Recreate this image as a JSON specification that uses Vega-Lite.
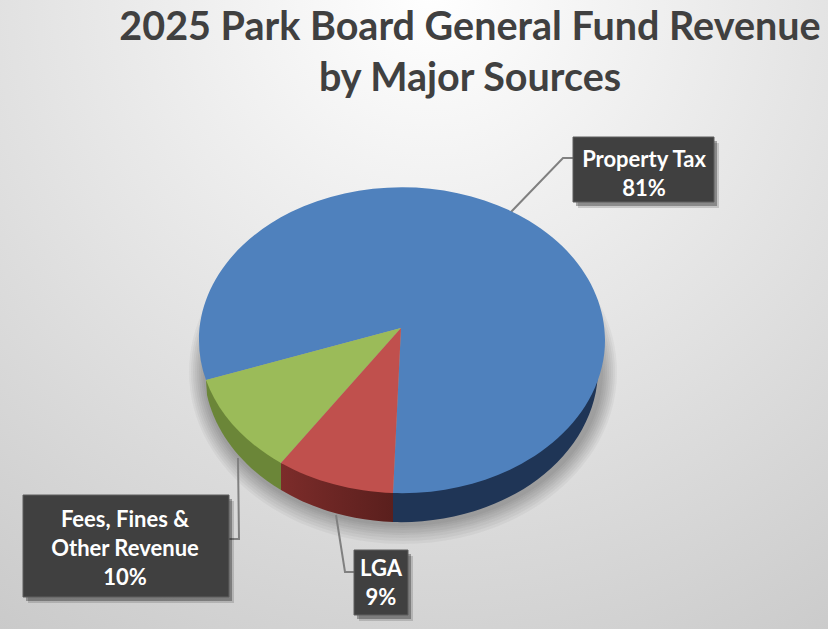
{
"$schema":"https://vega.github.io/schema/vega-lite/v6.json",
"width":828,"height":629,"padding":0,"autosize":{"type":"none"},
"config":{"view":{"stroke":null}},
"title":{"text":["2025 Park Board General Fund Revenue","by Major Sources"],"anchor":"middle","frame":"group","font":"Lato","fontSize":39.5,"fontWeight":"bold","color":"#404040","lineHeight":51,"dx":56,"offset":-99},
"data":{"values":[
{"source":"Property Tax","share":81,"label":"Property Tax\n81%"},
{"source":"Fees, Fines & Other Revenue","share":10,"label":"Fees, Fines &\nOther Revenue\n10%"},
{"source":"LGA","share":9,"label":"LGA\n9%"}
]},
"layer":[
{"data":{"values":[{"panel":"background"}]},"mark":{"type":"rect","color":{"gradient":"radial","x1":0.52,"y1":0.11,"r1":0,"x2":0.52,"y2":0.11,"r2":1,"stops":[{"offset":0,"color":"#ffffff"},{"offset":1,"color":"#c6c6c6"}]}},
"encoding":{"x":{"datum":0,"type":"quantitative","scale":{"domain":[0,828],"range":[0,828],"nice":false,"zero":false},"axis":null},"x2":{"datum":828},"y":{"datum":0,"type":"quantitative","scale":{"domain":[0,629],"range":[0,629],"nice":false,"zero":false},"axis":null},"y2":{"datum":629}}},

{"data":{"values":[{"ring":"a"},{"ring":"b"},{"ring":"c"},{"ring":"d"},{"ring":"e"},{"ring":"f"},{"ring":"g"},{"ring":"h"}]},"mark":{"type":"point","filled":true,"size":4,"opacity":0.04,"color":"#000000"},
"encoding":{"x":{"datum":403,"type":"quantitative"},"y":{"datum":372,"type":"quantitative"},
"shape":{"field":"ring","type":"nominal","legend":null,"scale":{"domain":["a","b","c","d","e","f","g","h"],"range":[
"M-200,0A200,154,0,1,0,200,0A200,154,0,1,0,-200,0Z",
"M-202,0A202,156,0,1,0,202,0A202,156,0,1,0,-202,0Z",
"M-204,0A204,158,0,1,0,204,0A204,158,0,1,0,-204,0Z",
"M-206,0A206,161,0,1,0,206,0A206,161,0,1,0,-206,0Z",
"M-208,0A208,163,0,1,0,208,0A208,163,0,1,0,-208,0Z",
"M-210,0A210,166,0,1,0,210,0A210,166,0,1,0,-210,0Z",
"M-212,0A212,169,0,1,0,212,0A212,169,0,1,0,-212,0Z",
"M-214,0A214,172,0,1,0,214,0A214,172,0,1,0,-214,0Z"]}}}},

{"mark":{"type":"point","filled":false,"size":4,"opacity":1,"stroke":"#808080","strokeWidth":2},
"encoding":{"x":{"datum":401,"type":"quantitative"},"y":{"datum":328,"type":"quantitative"},
"shape":{"field":"source","type":"nominal","legend":null,"scale":{"domain":["Property Tax","Fees, Fines & Other Revenue","LGA"],"range":["M109,-115L162,-170L172,-170","M-163,130L-162,211L-172,211","M-65,187L-56,244L-47,244"]}}}},

{"transform":[{"filter":"datum.source==='Property Tax'"}],"mark":{"type":"point","filled":true,"size":4,"opacity":1,"color":"#1f3556","shape":"M-8,165L-8,194A197,153,0,0,0,197,41L199,43Z"},
"encoding":{"x":{"datum":401,"type":"quantitative"},"y":{"datum":328,"type":"quantitative"}}},
{"transform":[{"filter":"datum.source==='LGA'"}],"mark":{"type":"point","filled":true,"size":4,"opacity":1,"shape":"M-120,135L-120,162A197,153,0,0,0,-8,194L-8,165Z","color":{"gradient":"linear","x1":0,"y1":0,"x2":1,"y2":0,"stops":[{"offset":0,"color":"#7c2c2a"},{"offset":1,"color":"#5a1f1d"}]}},
"encoding":{"x":{"datum":401,"type":"quantitative"},"y":{"datum":328,"type":"quantitative"}}},
{"transform":[{"filter":"datum.source==='Fees, Fines & Other Revenue'"}],"mark":{"type":"point","filled":true,"size":4,"opacity":1,"shape":"M-195,52L-194,67A197,153,0,0,0,-120,162L-120,135Z","color":"#6b8638"},
"encoding":{"x":{"datum":401,"type":"quantitative"},"y":{"datum":328,"type":"quantitative"}}},

{"mark":{"type":"point","filled":true,"size":4,"opacity":1},
"encoding":{"x":{"datum":401,"type":"quantitative"},"y":{"datum":328,"type":"quantitative"},
"shape":{"field":"source","type":"nominal","legend":null,"scale":{"domain":["Property Tax","Fees, Fines & Other Revenue","LGA"],"range":["M0,0L-8,165A203,153,0,1,0,-195,52Z","M0,0L-195,52A203,153,0,0,0,-120,135Z","M0,0L-120,135A203,153,0,0,0,-8,165Z"]}},
"color":{"field":"source","type":"nominal","legend":null,"scale":{"domain":["Property Tax","Fees, Fines & Other Revenue","LGA"],"range":["#4f81bd","#9bbb59","#c0504d"]}}}},

{"mark":{"type":"point","filled":true,"size":4,"opacity":0.15,"color":"#000000"},
"encoding":{"x":{"datum":406,"type":"quantitative"},"y":{"datum":334,"type":"quantitative"},
"shape":{"field":"source","type":"nominal","legend":null,"scale":{"domain":["Property Tax","Fees, Fines & Other Revenue","LGA"],"range":["M172,-191L313,-191L313,-126L172,-126Z","M-378,167L-172,167L-172,269L-378,269Z","M-47,222L7,222L7,287L-47,287Z"]}}}},
{"mark":{"type":"point","filled":true,"size":4,"opacity":0.3,"color":"#000000"},
"encoding":{"x":{"datum":404,"type":"quantitative"},"y":{"datum":332,"type":"quantitative"},
"shape":{"field":"source","type":"nominal","legend":null,"scale":{"domain":["Property Tax","Fees, Fines & Other Revenue","LGA"],"range":["M172,-191L313,-191L313,-126L172,-126Z","M-378,167L-172,167L-172,269L-378,269Z","M-47,222L7,222L7,287L-47,287Z"]}}}},
{"mark":{"type":"point","filled":true,"size":4,"opacity":1,"fill":"#404040","stroke":"#5e5e5e","strokeWidth":1},
"encoding":{"x":{"datum":401,"type":"quantitative"},"y":{"datum":328,"type":"quantitative"},
"shape":{"field":"source","type":"nominal","legend":null,"scale":{"domain":["Property Tax","Fees, Fines & Other Revenue","LGA"],"range":["M172,-191L313,-191L313,-126L172,-126Z","M-378,167L-172,167L-172,269L-378,269Z","M-47,222L7,222L7,287L-47,287Z"]}}}},

{"transform":[{"filter":"datum.source==='Property Tax'"}],"mark":{"type":"text","font":"Lato","fontWeight":"bold","fontSize":22,"color":"#ffffff","lineBreak":"\n","lineHeight":29,"align":"center","baseline":"middle"},
"encoding":{"x":{"datum":644,"type":"quantitative"},"y":{"datum":160,"type":"quantitative"},"text":{"field":"label"}}},
{"transform":[{"filter":"datum.source==='Fees, Fines & Other Revenue'"}],"mark":{"type":"text","font":"Lato","fontWeight":"bold","fontSize":22,"color":"#ffffff","lineBreak":"\n","lineHeight":29,"align":"center","baseline":"middle"},
"encoding":{"x":{"datum":125,"type":"quantitative"},"y":{"datum":520,"type":"quantitative"},"text":{"field":"label"}}},
{"transform":[{"filter":"datum.source==='LGA'"}],"mark":{"type":"text","font":"Lato","fontWeight":"bold","fontSize":22,"color":"#ffffff","lineBreak":"\n","lineHeight":29,"align":"center","baseline":"middle"},
"encoding":{"x":{"datum":381,"type":"quantitative"},"y":{"datum":569,"type":"quantitative"},"text":{"field":"label"}}}
],
"resolve":{"scale":{"shape":"independent","color":"independent"}}
}
